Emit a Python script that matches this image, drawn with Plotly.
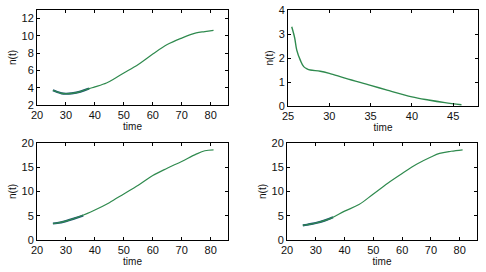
import plotly.graph_objects as go

# Panel 1 (top-left)
t1 = [25.5, 27, 28.5, 30, 32, 35, 38, 40, 44, 47, 50, 55, 60, 65, 70, 75, 78, 81]
n1 = [3.7, 3.5, 3.35, 3.3, 3.35, 3.55, 3.9, 4.1, 4.55, 5.1, 5.7, 6.7, 7.9, 9.0, 9.75, 10.35, 10.5, 10.65]
t1_obs = [25.5, 27, 28.5, 30, 32, 35, 38]
n1_obs = [3.7, 3.5, 3.35, 3.3, 3.35, 3.55, 3.9]

# Panel 2 (top-right)
t2 = [25.45, 25.8, 26.06, 26.5, 26.9, 27.3, 27.7, 28.9, 30, 32, 35, 37, 40, 42, 44, 46]
n2 = [3.3, 2.85, 2.33, 1.9, 1.64, 1.55, 1.5, 1.45, 1.36, 1.15, 0.86, 0.66, 0.38, 0.25, 0.14, 0.05]

# Panel 3 (bottom-left)
t3 = [25.5, 27, 30, 35, 40, 45, 50, 55, 60, 65, 70, 75, 78, 81]
n3 = [3.4, 3.5, 3.9, 4.9, 6.2, 7.7, 9.5, 11.3, 13.3, 14.8, 16.2, 17.7, 18.4, 18.6]
t3_obs = [25.5, 27, 30, 33, 36]
n3_obs = [3.4, 3.5, 3.9, 4.45, 5.05]

# Panel 4 (bottom-right)
t4 = [25.5, 27, 30, 35, 40, 45, 50, 55, 60, 65, 70, 73, 77, 81]
n4 = [3.0, 3.15, 3.5, 4.4, 5.95, 7.3, 9.5, 11.7, 13.7, 15.6, 17.1, 17.85, 18.3, 18.6]
t4_obs = [25.5, 27, 30, 33, 36]
n4_obs = [3.0, 3.15, 3.5, 4.0, 4.7]

GREEN = "#2f8a4e"
BLUE = "#1f5573"

fig = go.Figure()

def add(xs, ys, ax, color, width):
    fig.add_trace(go.Scatter(x=xs, y=ys, mode="lines", line=dict(color=color, width=width, shape="spline"),
                             xaxis="x" + ax, yaxis="y" + ax, showlegend=False, hoverinfo="skip"))

add(t1_obs, n1_obs, "", BLUE, 2.2)
add(t1, n1, "", GREEN, 1.2)
add(t2, n2, "2", GREEN, 1.4)
add(t3_obs, n3_obs, "3", BLUE, 2.2)
add(t3, n3, "3", GREEN, 1.2)
add(t4_obs, n4_obs, "4", BLUE, 2.2)
add(t4, n4, "4", GREEN, 1.2)

W, H = 486, 272
def dx(a, b):
    return [a / W, b / W]
def dy(top, bot):
    return [1 - bot / H, 1 - top / H]

font = dict(family="Liberation Sans, Arial, sans-serif", size=11, color="#111")
common = dict(showgrid=False, zeroline=False, showline=True, linecolor="black", linewidth=1,
              mirror="ticks", ticks="inside", ticklen=3, tickcolor="black", tickfont=font,
              automargin=False)
xt = dict(text="time", font=dict(family="Liberation Sans, Arial, sans-serif", size=10, color="#111"), standoff=1)
yt = dict(text="n(t)", font=dict(family="Liberation Sans, Arial, sans-serif", size=10, color="#111"), standoff=3)

fig.update_layout(
    width=W, height=H, margin=dict(l=0, r=0, t=0, b=0),
    paper_bgcolor="white", plot_bgcolor="white",
    xaxis=dict(domain=dx(37, 228), range=[20, 86], tickvals=[20, 30, 40, 50, 60, 70, 80], anchor="y", title=xt, **common),
    yaxis=dict(domain=dy(10, 105), range=[2, 13], tickvals=[2, 4, 6, 8, 10, 12], anchor="x", title=yt, **common),
    xaxis2=dict(domain=dx(288, 478), range=[25, 48], tickvals=[25, 30, 35, 40, 45], anchor="y2", title=xt, **common),
    yaxis2=dict(domain=dy(10, 106), range=[0, 4], tickvals=[0, 1, 2, 3, 4], anchor="x2", title=yt, **common),
    xaxis3=dict(domain=dx(37, 228), range=[20, 86], tickvals=[20, 30, 40, 50, 60, 70, 80], anchor="y3", title=xt, **common),
    yaxis3=dict(domain=dy(143, 240), range=[0, 20], tickvals=[0, 5, 10, 15, 20], anchor="x3", title=yt, **common),
    xaxis4=dict(domain=dx(287, 477), range=[20, 86], tickvals=[20, 30, 40, 50, 60, 70, 80], anchor="y4", title=xt, **common),
    yaxis4=dict(domain=dy(143, 240), range=[0, 20], tickvals=[0, 5, 10, 15, 20], anchor="x4", title=yt, **common),
)

fig.write_html("out.html", config={"displayModeBar": False},
               post_script="document.body.style.margin='0';document.body.style.overflow='hidden';")
